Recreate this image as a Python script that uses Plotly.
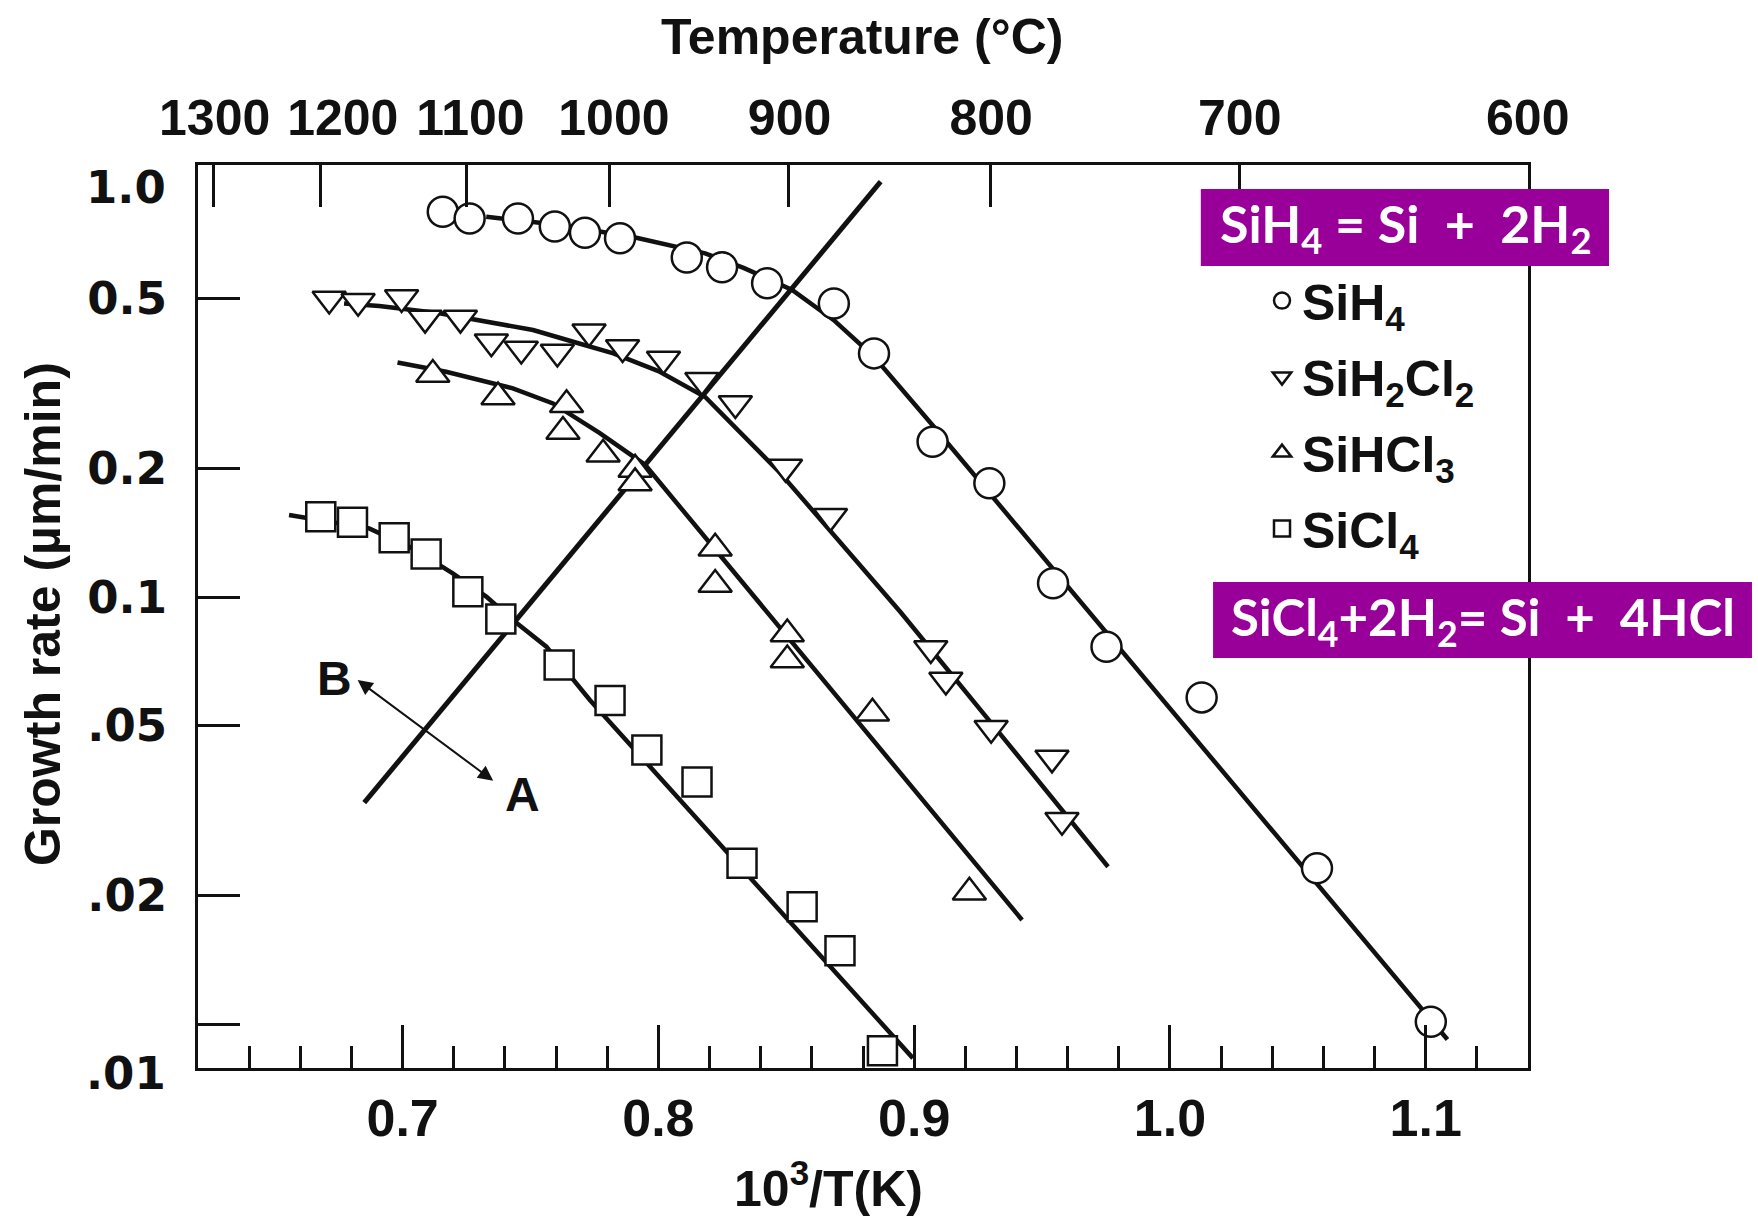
import numpy as np
import plotly.graph_objects as go

# ---------------- data ----------------
SIH4_X = [0.7157, 0.7262, 0.7451, 0.7595, 0.7713, 0.7850, 0.8111, 0.8249, 0.8425,
          0.8686, 0.8843, 0.9072, 0.9294, 0.9543, 0.9752, 1.0124, 1.0575, 1.1020]
SIH4_Y = [0.798, 0.770, 0.770, 0.737, 0.713, 0.692, 0.624, 0.592, 0.543,
          0.487, 0.372, 0.231, 0.1846, 0.1077, 0.0765, 0.0582, 0.02315, 0.01012]

SIH2CL2_X = [0.6713, 0.6826, 0.6996, 0.7088, 0.7226, 0.7347, 0.7464, 0.7605, 0.7729, 0.7860,
             0.8020, 0.8170, 0.8301, 0.8497, 0.8673, 0.9065, 0.9124, 0.9301, 0.9539, 0.9578]
SIH2CL2_Y = [0.499, 0.493, 0.503, 0.450, 0.450, 0.396, 0.381, 0.375, 0.418, 0.384,
             0.361, 0.322, 0.284, 0.2015, 0.1545, 0.0758, 0.0639, 0.0493, 0.0420, 0.0300]

SIHCL3_X = [0.7118, 0.7373, 0.7641, 0.7627, 0.7784, 0.7909, 0.7909, 0.8222, 0.8222,
            0.8504, 0.8504, 0.8837, 0.9216]
SIHCL3_Y = [0.332, 0.294, 0.282, 0.244, 0.216, 0.199, 0.185, 0.130, 0.107,
            0.0819, 0.0712, 0.0534, 0.02035]

SICL4_X = [0.6680, 0.6804, 0.6967, 0.7092, 0.7255, 0.7384, 0.7612, 0.7811, 0.7955,
           0.8151, 0.8327, 0.8562, 0.8710, 0.8876]
SICL4_Y = [0.1542, 0.1496, 0.1377, 0.1261, 0.1029, 0.0888, 0.0693, 0.0572, 0.0438,
           0.0369, 0.02378, 0.01883, 0.01485, 0.00866]

# fitted curves drawn through the data
SIH4_FIT_X = [0.7327, 0.7615, 0.7901, 0.8183, 0.8333, 0.8523, 0.8686, 0.8843, 0.9078, 1.1085]
SIH4_FIT_Y = [0.777, 0.743, 0.697, 0.638, 0.590, 0.524, 0.445, 0.365, 0.250, 0.0092]

SIH2CL2_FIT_X = [0.6771, 0.6909, 0.7144, 0.7353, 0.7510, 0.7667, 0.7824, 0.8000, 0.8183,
                 0.8477, 0.8948, 0.9340, 0.9758]
SIH2CL2_FIT_Y = [0.487, 0.480, 0.462, 0.4375, 0.422, 0.396, 0.372, 0.338, 0.294,
                 0.195, 0.092, 0.0475, 0.02335]

SIHCL3_FIT_X = [0.698, 0.717, 0.7431, 0.7588, 0.7771, 0.7948, 0.9422]
SIHCL3_FIT_Y = [0.354, 0.337, 0.308, 0.284, 0.242, 0.204, 0.01752]

SICL4_FIT_X = [0.6556, 0.6869, 0.7039, 0.7196, 0.7327, 0.7431, 0.7562, 0.7732, 0.8995]
SICL4_FIT_Y = [0.1556, 0.1448, 0.130, 0.1136, 0.1002, 0.0883, 0.0765, 0.0574, 0.00832]

# A/B regime boundary line
BOUNDARY_X = [0.685, 0.8869]
BOUNDARY_Y = [0.0330, 0.9389]

# double arrow (B end, A end) and labels
ARROW_B = (0.6824, 0.0639)
ARROW_A = (0.736, 0.0369)
LABEL_B = (0.6732, 0.0645)
LABEL_A = (0.7468, 0.0344)

# axes ticks
X_TICKS = [0.7, 0.8, 0.9, 1.0, 1.1]
X_TICK_TEXT = ["0.7", "0.8", "0.9", "1.0", "1.1"]
Y_TICKS = [0.5, 0.2, 0.1, 0.05, 0.02, 0.01]
Y_TICK_TEXT = ["0.5", "0.2", "0.1", ".05", ".02", ""]
TEMP_LABELS = ["1300", "1200", "1100", "1000", "900", "800", "700", "600"]
TEMP_TICK_POS = [0.626, 0.668, 0.7249, 0.7809, 0.8509, 0.9297, 1.0271, 1.1399]
TEMP_LABEL_POS = [0.6265, 0.6766, 0.7265, 0.7826, 0.8513, 0.9301, 1.0273, 1.1399]

SERIES = [
    ("SiH<sub>4</sub>", SIH4_X, SIH4_Y, "circle"),
    ("SiH<sub>2</sub>Cl<sub>2</sub>", SIH2CL2_X, SIH2CL2_Y, "triangle-down"),
    ("SiHCl<sub>3</sub>", SIHCL3_X, SIHCL3_Y, "triangle-up"),
    ("SiCl<sub>4</sub>", SICL4_X, SICL4_Y, "square"),
]
FITS = [(SIH4_FIT_X, SIH4_FIT_Y), (SIH2CL2_FIT_X, SIH2CL2_FIT_Y),
        (SIHCL3_FIT_X, SIHCL3_FIT_Y), (SICL4_FIT_X, SICL4_FIT_Y)]

# ---------------- styling ----------------
INK = "#111111"
COND = "Liberation Sans, Arial, sans-serif"
WIDE = "DejaVu Sans, Verdana, sans-serif"
BOXFONT = "Lato, DejaVu Sans, sans-serif"
PURPLE = "#990099"
XR = [0.62, 1.14]
YR = [-2.103, 0.0117]

fig = go.Figure()

for fx, fy in FITS:
    fig.add_trace(go.Scatter(x=fx, y=fy, mode="lines", line=dict(color=INK, width=4.5),
                             showlegend=False, hoverinfo="skip"))
fig.add_trace(go.Scatter(x=BOUNDARY_X, y=BOUNDARY_Y, mode="lines",
                         line=dict(color=INK, width=5), showlegend=False, hoverinfo="skip"))

sizes = {"circle": 30, "triangle-down": 29, "triangle-up": 29, "square": 29}
for name, xs, ys, sym in SERIES:
    fig.add_trace(go.Scatter(x=xs, y=ys, mode="markers", name=name, legendgroup=name,
                             marker=dict(symbol=sym, size=sizes[sym], color="white",
                                         line=dict(color=INK, width=2.5))))

# helper traces so the top axes are drawn
fig.add_trace(go.Scatter(x=[0.7], y=[0.1], xaxis="x2", mode="markers",
                         marker=dict(opacity=0), showlegend=False, hoverinfo="skip"))
fig.add_trace(go.Scatter(x=[0.7], y=[0.1], xaxis="x3", mode="markers",
                         marker=dict(opacity=0), showlegend=False, hoverinfo="skip"))

tickfont_x = dict(family=COND, size=52, color=INK, weight="bold")
tickfont_top = dict(family=COND, size=50, color=INK, weight="bold")
titlefont = dict(family=COND, size=50, color=INK, weight="bold")
yfont = dict(family=WIDE, size=45, color=INK, weight="bold")

fig.update_layout(
    width=1758, height=1216,
    margin=dict(l=198, r=230, t=165, b=148),
    paper_bgcolor="white", plot_bgcolor="white",
    showlegend=True,
    legend=dict(x=0.80, y=0.893, xanchor="left", yanchor="top",
                font=dict(family=COND, size=50, color=INK, weight="bold"),
                bgcolor="rgba(0,0,0,0)", itemwidth=30, tracegroupgap=8),
    xaxis=dict(range=XR, tickvals=X_TICKS, ticktext=X_TICK_TEXT, ticks="inside",
               ticklen=43, tickwidth=2.5, tickcolor=INK, tickangle=0,
               minor=dict(ticks="inside", ticklen=22, tickwidth=2.5, tickcolor=INK,
                          tick0=0.62, dtick=0.02, showgrid=False),
               showline=True, linewidth=3, linecolor=INK, mirror=True,
               showgrid=False, zeroline=False, tickfont=tickfont_x, ticklabelstandoff=3),
    yaxis=dict(type="log", range=YR, tickvals=Y_TICKS, ticktext=Y_TICK_TEXT,
               ticks="inside", ticklen=42, tickwidth=2.5, tickcolor=INK,
               showline=True, linewidth=3, linecolor=INK, mirror=True,
               showgrid=False, zeroline=False, tickfont=yfont, ticklabelstandoff=19),
    xaxis2=dict(range=XR, overlaying="x", side="top", anchor="y", tickvals=TEMP_TICK_POS,
                showticklabels=False, ticks="inside", ticklen=42, tickwidth=2.5,
                tickcolor=INK, showgrid=False, zeroline=False, showline=False),
    xaxis3=dict(range=XR, overlaying="x", side="top", anchor="y", tickvals=TEMP_LABEL_POS,
                ticktext=TEMP_LABELS, ticks="", tickangle=0, showgrid=False, zeroline=False,
                showline=False, tickfont=tickfont_top, ticklabelstandoff=19),
)

ann = []
# axis titles
ann.append(dict(text="Temperature (°C)", xref="paper", yref="paper", x=0.4992, y=1.1417,
                showarrow=False, font=titlefont, xanchor="center", yanchor="middle"))
ann.append(dict(text="10<sup>3</sup>/T(K)", xref="paper", yref="paper", x=0.4737, y=-0.1296,
                showarrow=False, font=titlefont, xanchor="center", yanchor="middle"))
ann.append(dict(text="Growth rate (µm/min)", xref="paper", yref="paper", x=-0.1165, y=0.5028,
                showarrow=False, textangle=-90, font=titlefont,
                xanchor="center", yanchor="middle"))
# end labels of the y axis
ann.append(dict(text="1.0", xref="paper", yref="paper", x=0, y=0.9756, xanchor="right",
                yanchor="middle", xshift=-30, showarrow=False, font=yfont))
ann.append(dict(text=".01", xref="paper", yref="paper", x=0, y=-0.0066, xanchor="right",
                yanchor="middle", xshift=-30, showarrow=False, font=yfont))
# regime labels and double arrow
ann.append(dict(text="B", x=LABEL_B[0], y=np.log10(LABEL_B[1]), xref="x", yref="y",
                showarrow=False, font=dict(family=COND, size=48, color=INK, weight="bold")))
ann.append(dict(text="A", x=LABEL_A[0], y=np.log10(LABEL_A[1]), xref="x", yref="y",
                showarrow=False, font=dict(family=COND, size=48, color=INK, weight="bold")))
ann.append(dict(text="", x=ARROW_B[0], y=np.log10(ARROW_B[1]),
                ax=ARROW_A[0], ay=np.log10(ARROW_A[1]), xref="x", yref="y",
                axref="x", ayref="y", showarrow=True, arrowhead=2, startarrowhead=2,
                arrowside="end+start", arrowsize=1.5, startarrowsize=1.5,
                arrowwidth=2, arrowcolor=INK, standoff=0, startstandoff=0))
# reaction boxes
ann.append(dict(text="SiH<sub>4</sub>\u00a0=\u00a0Si\u00a0\u00a0+\u00a0\u00a02H<sub>2</sub>",
                xref="paper", yref="paper", x=0.9083, y=0.9313, showarrow=False,
                xanchor="center", yanchor="middle",
                font=dict(family=BOXFONT, size=52, color="white", weight="bold")))
ann.append(dict(text="SiCl<sub>4</sub>+2H<sub>2</sub>=\u00a0Si\u00a0\u00a0+\u00a0\u00a04HCl",
                xref="paper", yref="paper", x=0.9658, y=0.4961, showarrow=False,
                xanchor="center", yanchor="middle",
                font=dict(family=BOXFONT, size=51, color="white", weight="bold")))

shapes = [
    dict(type="rect", xref="paper", yref="paper", x0=0.754, x1=1.0609, y0=0.8882, y1=0.9734,
         fillcolor=PURPLE, line=dict(width=0), layer="above"),
    dict(type="rect", xref="paper", yref="paper", x0=0.7632, x1=1.1684, y0=0.454, y1=0.5382,
         fillcolor=PURPLE, line=dict(width=0), layer="above"),
]
fig.update_layout(annotations=ann, shapes=shapes)

fig.write_html("out.html", config={"displayModeBar": False},
               post_script="document.body.style.margin='0';document.body.style.padding='0';"
                           "document.body.style.overflow='hidden';")
